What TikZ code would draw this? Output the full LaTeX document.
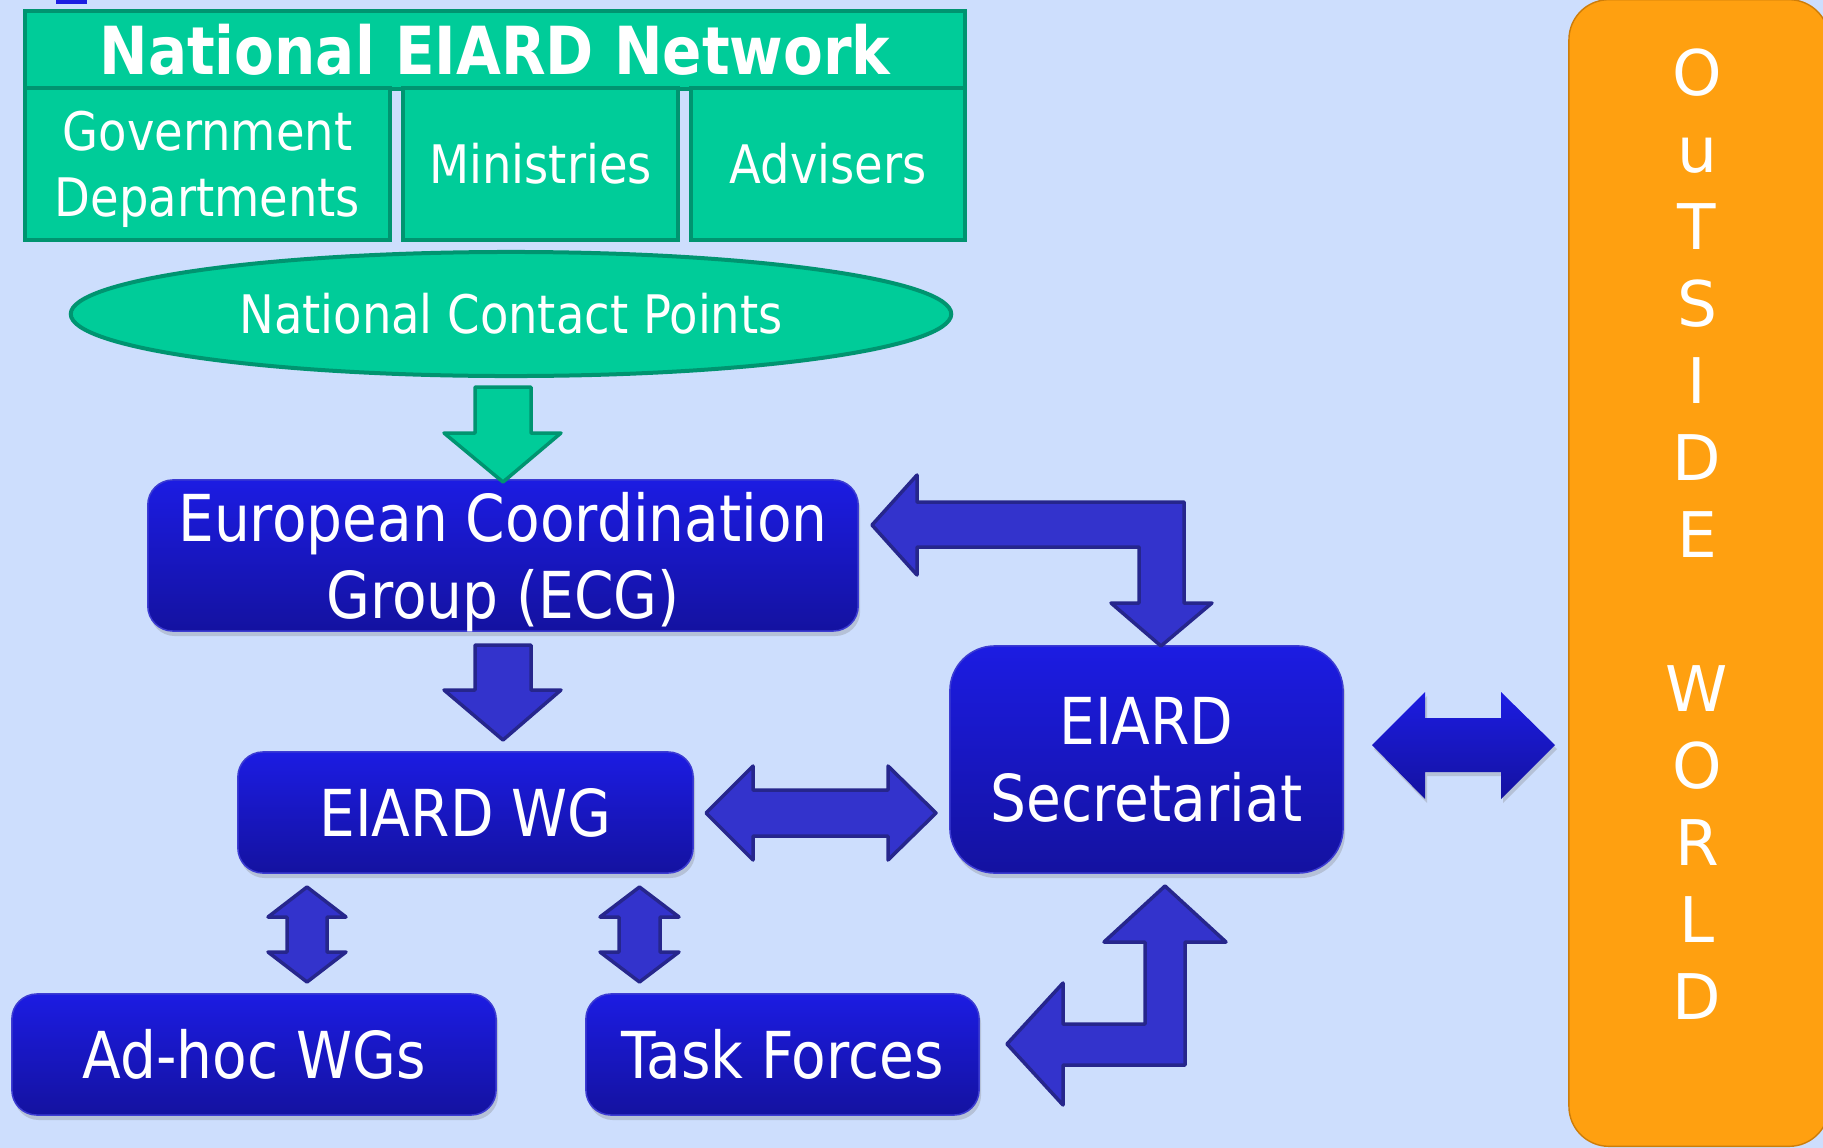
\documentclass[tikz,border=0pt]{standalone}
\usepackage{fontspec}
\setmainfont{DejaVu Sans}[FakeStretch=0.875]
\newfontfamily\widefont{DejaVu Sans}
\usetikzlibrary{shapes.geometric,shadows,positioning}

\definecolor{bgblue}{RGB}{205,222,253}
\definecolor{netgreen}{RGB}{0,204,153}
\definecolor{netedge}{RGB}{0,148,112}
\definecolor{boxtop}{RGB}{28,28,226}
\definecolor{boxbot}{RGB}{20,18,160}
\definecolor{boxedge}{RGB}{60,60,210}
\definecolor{arrfill}{RGB}{51,51,204}
\definecolor{arredge}{RGB}{38,38,140}
\definecolor{outorange}{RGB}{255,160,16}
\definecolor{outedge}{RGB}{205,125,10}

\tikzset{
  netbox/.style={draw=netedge, fill=netgreen, line width=0.04cm, text=white, inner sep=0pt, align=center},
  bluebox/.style={draw=boxedge, line width=0.015cm, top color=boxtop, bottom color=boxbot,
    rounded corners=0.25cm, text=white, align=center, inner sep=0pt,
    drop shadow={shadow xshift=0.02cm, shadow yshift=-0.05cm, opacity=0.3}},
  blockarrow/.style={draw=arredge, fill=arrfill, line width=0.035cm, line join=round},
  greenarrow/.style={draw=netedge, fill=netgreen, line width=0.035cm, line join=round},
  bigfont/.style={font=\fontsize{18.4}{21.9}\selectfont},
  smallfont/.style={font=\fontsize{15.1}{18.8}\selectfont},
}

\begin{document}
\begin{tikzpicture}[x=0.01cm, y=-0.01cm]
    \useasboundingbox (0,0) rectangle (1823,1148);
    \fill[bgblue] (0,0) rectangle (1823,1148);
    \fill[boxtop] (56,0) rectangle (87,4);

    % national network
    \node[netbox, font=\bfseries\fontsize{18.85}{22}\selectfont, minimum width=9.4cm, minimum height=0.78cm] (title) at (495,50) {National EIARD Network};
    \node[netbox, smallfont, text depth=0pt, minimum width=3.65cm, minimum height=1.52cm] (gov) at (207.5,164) {Government\\Departments};
    \node[netbox, smallfont, minimum width=2.75cm, minimum height=1.52cm] (min) at (540.5,164) {Ministries};
    \node[netbox, smallfont, minimum width=2.74cm, minimum height=1.52cm] (adv) at (828,164) {Advisers};
    \node[netbox, ellipse, smallfont, minimum width=8.8cm, minimum height=1.24cm] (ncp) at (511,314) {National Contact Points};

    % blue boxes
    \node[bluebox, bigfont, text depth=0pt, minimum width=7.1cm, minimum height=1.51cm] (ecg) at (503,555.5) {European Coordination\\Group (ECG)};
    \node[bluebox, bigfont, minimum width=4.55cm, minimum height=1.21cm] (wg) at (465.5,812.5) {EIARD WG};
    \node[bluebox, bigfont, rounded corners=0.45cm, minimum width=3.93cm, minimum height=2.27cm] (sec) at (1146.5,759.5) {EIARD\\Secretariat};
    \node[bluebox, bigfont, minimum width=4.84cm, minimum height=1.21cm] (adhoc) at (254,1054.5) {Ad-hoc WGs};
    \node[bluebox, bigfont, minimum width=3.93cm, minimum height=1.21cm] (task) at (782.5,1054.5) {Task Forces};

    % outside world
    \node[draw=outedge, fill=outorange, rounded corners=0.4cm, minimum width=2.6cm, minimum height=11.46cm, inner sep=0pt] (outside) at (1699,573) {};
    \node[text=white, align=center, font=\widefont\fontsize{17.9}{21.9}\selectfont] (outtext) at (1697,534) {O\\u\\T\\S\\I\\D\\E\\[21.9pt]W\\O\\R\\L\\D};

    % block arrows
    \draw[greenarrow] (475,387) -- (531,387) -- (531,433) -- (561,433) -- (503,482) -- (444,433) -- (475,433) -- cycle;
    \draw[blockarrow] (475,645) -- (531,645) -- (531,690) -- (561,690) -- (503,740) -- (444,690) -- (475,690) -- cycle;
    \draw[blockarrow] (706,813) -- (753,766) -- (753,790) -- (888,790) -- (888,766) -- (936,813) -- (888,860) -- (888,836) -- (753,836) -- (753,860) -- cycle;
    \draw[blockarrow] (872,525) -- (917,475) -- (917,502) -- (1184,502) -- (1184,603) -- (1212,603) -- (1161,646) -- (1111,603) -- (1139,603) -- (1139,547) -- (917,547) -- (917,575) -- cycle;
    \draw[blockarrow] (1165,886) -- (1226,942) -- (1185,942) -- (1185,1065) -- (1063,1065) -- (1063,1105) -- (1007,1044) -- (1063,983) -- (1063,1024) -- (1145,1024) -- (1145,942) -- (1104,942) -- cycle;
    \draw[blockarrow] (307,887) -- (346,917) -- (327,917) -- (327,952) -- (346,952) -- (307,982) -- (268,952) -- (287,952) -- (287,917) -- (268,917) -- cycle;
    \draw[blockarrow] (639.5,887) -- (679,917) -- (660,917) -- (660,952) -- (679,952) -- (639.5,982) -- (600,952) -- (619,952) -- (619,917) -- (600,917) -- cycle;
    \path[top color=boxtop, bottom color=boxbot, drop shadow={shadow xshift=0.02cm, shadow yshift=-0.04cm, opacity=0.3}]
        (1372,745) -- (1425,692) -- (1425,718) -- (1501,718) -- (1501,692) -- (1555,745) -- (1501,799) -- (1501,772) -- (1425,772) -- (1425,799) -- cycle;
\end{tikzpicture}
\end{document}
